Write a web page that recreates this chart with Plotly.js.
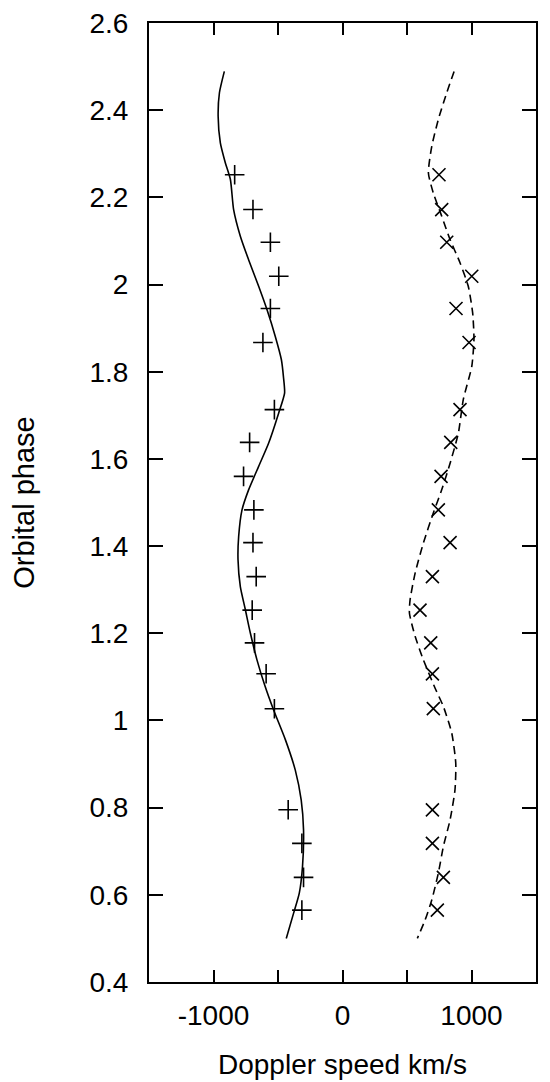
<!DOCTYPE html>
<html>
<head>
<meta charset="utf-8">
<script src="https://cdn.plot.ly/plotly-3.0.1.min.js"></script>
<style>html,body{margin:0;padding:0;background:#fff;}#chart{width:550px;height:1082px;}</style>
</head>
<body>
<div id="chart"></div>
<script>
// Observed orbital phases
var obsPhase = [2.252, 2.172, 2.097, 2.019, 1.945, 1.867, 1.713, 1.638, 1.560, 1.483, 1.408, 1.330, 1.253, 1.178, 1.107, 1.027, 0.795, 0.718, 0.640, 0.565];
// Observed Doppler speeds (km/s), "+" series
var obsPlus = [-836, -694, -559, -494, -559, -617, -528, -720, -767, -687, -694, -669, -700, -682, -592, -528, -421, -315, -302, -315];
// Observed Doppler speeds (km/s), "x" series
var obsCross = [748, 769, 808, 1002, 880, 981, 911, 839, 764, 743, 834, 697, 601, 684, 697, 704, 697, 697, 782, 735];

// Model curve (solid)
var modelAPhase = [2.489, 2.440, 2.386, 2.325, 2.279, 2.241, 2.172, 2.111, 2.057, 1.996, 1.942, 1.881, 1.828, 1.786, 1.751, 1.705, 1.636, 1.583, 1.529, 1.483, 1.422, 1.369, 1.307, 1.254, 1.200, 1.139, 1.082, 1.024, 0.956, 0.886, 0.817, 0.749, 0.665, 0.604, 0.558, 0.500];
var modelAVel = [-916, -954, -964, -947, -908, -869, -844, -792, -728, -650, -585, -521, -474, -457, -449, -495, -573, -650, -728, -779, -805, -810, -792, -753, -714, -663, -604, -534, -443, -366, -320, -302, -310, -335, -379, -436];

// Model curve (dashed)
var modelBPhase = [2.489, 2.440, 2.379, 2.317, 2.256, 2.210, 2.157, 2.103, 2.050, 1.996, 1.935, 1.874, 1.812, 1.737, 1.659, 1.590, 1.529, 1.476, 1.407, 1.338, 1.277, 1.246, 1.193, 1.139, 1.074, 1.032, 0.971, 0.902, 0.841, 0.772, 0.711, 0.650, 0.588, 0.542, 0.500];
var modelBVel = [865, 808, 743, 692, 666, 704, 769, 834, 911, 975, 1009, 1019, 1002, 937, 898, 834, 769, 704, 627, 563, 524, 519, 563, 627, 718, 782, 847, 878, 872, 834, 782, 743, 692, 640, 580];

var xTickVals = [-1000, -500, 0, 500, 1000];
var xTickText = ['-1000', '', '0', '', '1000'];

var FONT = 'Liberation Sans, Arial, Helvetica, sans-serif';

var traces = [
  {x: modelAVel, y: modelAPhase, mode: 'lines', line: {color: '#000', width: 1.6, shape: 'spline', smoothing: 0.6}, hoverinfo: 'skip', showlegend: false},
  {x: modelBVel, y: modelBPhase, mode: 'lines', line: {color: '#000', width: 1.6, dash: '8px,5px', shape: 'spline', smoothing: 0.6}, hoverinfo: 'skip', showlegend: false},
  {x: obsPlus, y: obsPhase, mode: 'markers', marker: {symbol: 'cross-thin-open', size: 14, color: '#000', line: {color: '#000', width: 1.6}}, showlegend: false},
  {x: obsCross, y: obsPhase, mode: 'markers', marker: {symbol: 'x-thin-open', size: 13, color: '#000', line: {color: '#000', width: 1.6}}, showlegend: false}
];

var layout = {
  width: 550, height: 1082,
  margin: {l: 149, r: 14, t: 23, b: 100},
  paper_bgcolor: '#fff', plot_bgcolor: '#fff',
  font: {family: FONT, size: 28, color: '#000'},
  showlegend: false,
  xaxis: {
    range: [-1500, 1500], tickvals: xTickVals, ticktext: xTickText,
    ticks: 'inside', ticklen: 12, tickwidth: 2, tickcolor: '#000',
    showline: true, linewidth: 2, linecolor: '#000', mirror: 'ticks',
    showgrid: false, zeroline: false,
    ticklabelstandoff: 7,
    tickfont: {family: FONT, size: 28, color: '#000'},
    title: {text: 'Doppler speed km/s', font: {family: FONT, size: 28, color: '#000'}, standoff: 25},
    automargin: false
  },
  yaxis: {
    range: [0.4, 2.6], tick0: 0.4, dtick: 0.2,
    ticks: 'inside', ticklen: 14, tickwidth: 2, tickcolor: '#000',
    showline: true, linewidth: 2, linecolor: '#000', mirror: 'ticks',
    showgrid: false, zeroline: false,
    ticklabelstandoff: 13,
    tickfont: {family: FONT, size: 28, color: '#000'},
    title: {text: 'Orbital phase', font: {family: FONT, size: 29, color: '#000'}, standoff: 46},
    automargin: false
  }
};

Plotly.newPlot('chart', traces, layout, {displayModeBar: false, staticPlot: true});
</script>
</body>
</html>
